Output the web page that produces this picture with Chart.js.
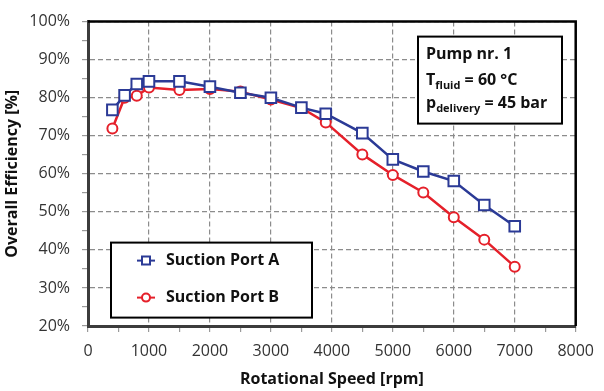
<!DOCTYPE html>
<html>
<head>
<meta charset="utf-8">
<script src="https://cdn.jsdelivr.net/npm/chart.js@4/dist/chart.umd.min.js"></script>
<style>
  html, body { margin: 0; padding: 0; background: #fff; }
  #wrap { width: 604px; height: 391px; position: relative; }
</style>
</head>
<body>
<div id="wrap"><canvas id="effChart"></canvas></div>
<script>
const BLUE = '#2B3A96';
const RED  = '#E5202A';
const GRID = '#8C8C8C';
const AXIS = '#3C3C3C';
const FONT = "'Open Sans', 'Liberation Sans', sans-serif";

// rotational speed [rpm]
const SPEED  = [400, 600, 800, 1000, 1500, 2000, 2500, 3000, 3500, 3900, 4500, 5000, 5500, 6000, 6500, 7000];
// overall efficiency [%]
const PORT_A = [76.8, 80.6, 83.6, 84.3, 84.3, 82.9, 81.3, 80.0, 77.4, 75.8, 70.7, 63.8, 60.6, 58.1, 51.8, 46.2];
const PORT_B = [71.9, 80.0, 80.5, 82.7, 82.0, 82.3, 81.6, 79.5, 77.3, 73.5, 65.1, 59.7, 55.1, 48.6, 42.7, 35.6];
const LABELS = ['Suction Port A', 'Suction Port B'];

const pts = ys => SPEED.map((x, i) => ({ x: x, y: ys[i] }));

// top + right frame
const frame = {
  id: 'frame',
  beforeDatasetsDraw(chart) {
    const { ctx, chartArea: a } = chart;
    ctx.save();
    ctx.strokeStyle = '#000';
    ctx.lineWidth = 2.5;
    ctx.beginPath();
    ctx.moveTo(a.left, a.top);
    ctx.lineTo(a.right, a.top);
    ctx.lineTo(a.right, a.bottom);
    ctx.stroke();
    ctx.restore();
  }
};

function marker(ctx, style, x, y, r, color) {
  ctx.fillStyle = '#fff';
  ctx.strokeStyle = color;
  ctx.lineWidth = 2;
  ctx.beginPath();
  if (style === 'rect') ctx.rect(x - r, y - r, 2 * r, 2 * r);
  else ctx.arc(x, y, r, 0, Math.PI * 2);
  ctx.fill();
  ctx.stroke();
}

// legend box inside plot + info box
const boxes = {
  id: 'boxes',
  afterDraw(chart) {
    const { ctx, chartArea: a } = chart;
    ctx.save();
    // legend
    const lx = a.left + 23, ly = a.top + 221, lw = 201, lh = 75;
    ctx.fillStyle = '#fff';
    ctx.fillRect(lx, ly, lw, lh);
    ctx.strokeStyle = '#000';
    ctx.lineWidth = 2;
    ctx.strokeRect(lx, ly, lw, lh);
    ctx.font = 'bold 16px ' + FONT;
    ctx.textBaseline = 'middle';
    chart.data.datasets.forEach((ds, i) => {
      const y = ly + 18 + i * 37;
      const mx = lx + 35;
      ctx.strokeStyle = ds.borderColor;
      ctx.lineWidth = 2;
      ctx.beginPath();
      ctx.moveTo(mx - 9, y);
      ctx.lineTo(mx + 9, y);
      ctx.stroke();
      marker(ctx, ds.pointStyle, mx, y, ds.pointStyle === 'rect' ? 4 : 4, ds.borderColor);
      ctx.fillStyle = '#111';
      ctx.fillText(ds.label, lx + 55, y);
    });

    // info box
    const bx = a.left + 330, by = a.top + 15, bw = 144, bh = 87;
    ctx.fillStyle = '#fff';
    ctx.fillRect(bx, by, bw, bh);
    ctx.strokeStyle = '#000';
    ctx.lineWidth = 2;
    ctx.strokeRect(bx, by, bw, bh);
    ctx.fillStyle = '#111';
    ctx.textBaseline = 'alphabetic';
    const tx = bx + 8;
    const big = 'bold 16px ' + FONT, small = 'bold 11px ' + FONT;
    function line(parts, y) {
      let x = tx;
      parts.forEach(p => {
        ctx.font = p[1] ? small : big;
        ctx.fillText(p[0], x, y + (p[1] ? 4 : 0));
        x += ctx.measureText(p[0]).width;
      });
    }
    line([['Pump nr. 1']], by + 22);
    line([['T'], ['fluid', 1], [' = 60 °C']], by + 48);
    line([['p'], ['delivery', 1], [' = 45 bar']], by + 71);
    ctx.restore();
  }
};

new Chart('effChart', {
  type: 'line',
  data: {
    datasets: [
      {
        label: LABELS[0],
        data: pts(PORT_A),
        borderColor: BLUE,
        borderWidth: 2.5,
        pointStyle: 'rect',
        pointRadius: 7.5,
        pointBorderWidth: 2,
        pointBackgroundColor: '#fff',
        pointBorderColor: BLUE,
        tension: 0
      },
      {
        label: LABELS[1],
        data: pts(PORT_B),
        borderColor: RED,
        borderWidth: 2.5,
        pointStyle: 'circle',
        pointRadius: 5,
        pointBorderWidth: 2,
        pointBackgroundColor: '#fff',
        pointBorderColor: RED,
        tension: 0
      }
    ]
  },
  options: {
    responsive: true,
    maintainAspectRatio: false,
    animation: false,
    layout: { padding: { top: 10, right: 23, left: 0, bottom: 0 } },
    plugins: { legend: { display: false }, tooltip: { enabled: false } },
    scales: {
      x: {
        type: 'linear',
        min: 0, max: 8000,
        afterFit(s) { s.height = 65; },
        border: { color: AXIS, width: 3, dash: [5, 3] },
        grid: {
          color: c => c.tick && c.tick.value % 1000 === 0 ? GRID : 'rgba(0,0,0,0)',
          tickColor: '#9a9a9a',
          tickLength: 6,
          lineWidth: 1.2
        },
        ticks: {
          stepSize: 500,
          autoSkip: false,
          maxRotation: 0,
          padding: 10,
          color: '#333',
          font: { family: FONT, size: 16 },
          callback: v => v % 1000 === 0 ? v : ''
        },
        title: {
          display: true,
          text: 'Rotational Speed [rpm]',
          color: '#111',
          font: { family: FONT, size: 16, weight: 'bold' },
          padding: { top: 0, bottom: 2 }
        }
      },
      y: {
        min: 20, max: 100,
        afterFit(s) { s.width = 88; },
        border: { color: AXIS, width: 3, dash: [5, 3] },
        grid: {
          color: c => c.tick && c.tick.value % 10 === 0 ? GRID : 'rgba(0,0,0,0)',
          tickColor: '#9a9a9a',
          tickLength: 6,
          lineWidth: 1.2
        },
        ticks: {
          stepSize: 5,
          autoSkip: false,
          padding: 12,
          color: '#333',
          font: { family: FONT, size: 16 },
          callback: v => v % 10 === 0 ? v + '%' : ''
        },
        title: {
          display: true,
          text: 'Overall Efficiency [%]',
          color: '#111',
          font: { family: FONT, size: 16, weight: 'bold' },
          padding: { top: 3, bottom: 0 }
        }
      }
    }
  },
  plugins: [frame, boxes]
});
</script>
</body>
</html>
